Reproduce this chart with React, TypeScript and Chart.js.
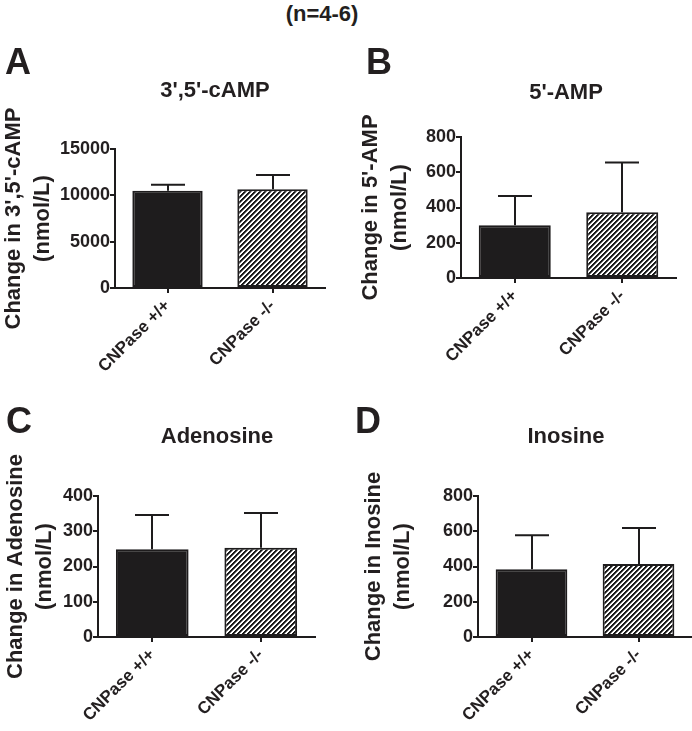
import React, { useEffect, useRef } from "react";
import { Chart, registerables } from "chart.js";

Chart.register(...registerables);

// ---------- data ----------
const categories = ["CNPase +/+", "CNPase -/-"];

const campMean = [10500, 10650];
const campSem = [650, 1550];
const campTicks = [0, 5000, 10000, 15000];

const ampMean = [300, 373];
const ampSem = [165, 282];
const ampTicks = [0, 200, 400, 600, 800];

const adoMean = [249, 253];
const adoSem = [97, 99];
const adoTicks = [0, 100, 200, 300, 400];

const inoMean = [384, 414];
const inoSem = [193, 204];
const inoTicks = [0, 200, 400, 600, 800];

const headerText = "(n=4-6)";
const unitText = "(nmol/L)";

// ---------- styles ----------
const FONT = "Arial, 'Liberation Sans', Helvetica, sans-serif";
const TEXT = "#231f20";
const INK = "#1e1c1d";

type PanelCfg = {
  letter: string;
  title: string;
  yTitle: string;
  means: number[];
  sems: number[];
  ticks: number[];
  box: { left: number; top: number; width: number; height: number };
  yWidth: number;
  padTop: number;
  padRight: number;
  xHeight: number;
  yTitlePad: number;
  letterPos: [number, number];
  titlePos: [number, number];
};

const panels: PanelCfg[] = [
  {
    letter: "A",
    title: "3',5'-cAMP",
    yTitle: "Change in 3',5'-cAMP",
    means: campMean,
    sems: campSem,
    ticks: campTicks,
    box: { left: 0, top: 30, width: 346, height: 350 },
    yWidth: 115,
    padTop: 119,
    padRight: 21,
    xHeight: 92,
    yTitlePad: 0,
    letterPos: [5, 44],
    titlePos: [215, 67],
  },
  {
    letter: "B",
    title: "5'-AMP",
    yTitle: "Change in 5'-AMP",
    means: ampMean,
    sems: ampSem,
    ticks: ampTicks,
    box: { left: 346, top: 30, width: 346, height: 350 },
    yWidth: 115,
    padTop: 107,
    padRight: 16,
    xHeight: 102,
    yTitlePad: 11,
    letterPos: [20, 44],
    titlePos: [220, 69],
  },
  {
    letter: "C",
    title: "Adenosine",
    yTitle: "Change in Adenosine",
    means: adoMean,
    sems: adoSem,
    ticks: adoTicks,
    box: { left: 0, top: 380, width: 346, height: 351 },
    yWidth: 98,
    padTop: 116,
    padRight: 31,
    xHeight: 94,
    yTitlePad: 2,
    letterPos: [6, 53],
    titlePos: [217, 63],
  },
  {
    letter: "D",
    title: "Inosine",
    yTitle: "Change in Inosine",
    means: inoMean,
    sems: inoSem,
    ticks: inoTicks,
    box: { left: 346, top: 380, width: 346, height: 351 },
    yWidth: 132,
    padTop: 116,
    padRight: 0,
    xHeight: 94,
    yTitlePad: 14,
    letterPos: [9, 53],
    titlePos: [220, 63],
  },
];

function makeHatch(ctx: CanvasRenderingContext2D): CanvasPattern | string {
  const s = 5;
  const tile = document.createElement("canvas");
  tile.width = s;
  tile.height = s;
  const tctx = tile.getContext("2d");
  if (!tctx) return "#888";
  const img = tctx.createImageData(s, s);
  for (let y = 0; y < s; y++) {
    for (let x = 0; x < s; x++) {
      const k = (x + y) % s;
      let v = 255;
      if (k === 0 || k === 1) v = 25;
      else if (k === 2) v = 110;
      const i = (y * s + x) * 4;
      img.data[i] = v;
      img.data[i + 1] = v;
      img.data[i + 2] = v;
      img.data[i + 3] = 255;
    }
  }
  tctx.putImageData(img, 0, 0);
  return ctx.createPattern(tile, "repeat") || "#888";
}

function Panel({ cfg }: { cfg: PanelCfg }) {
  const ref = useRef<HTMLCanvasElement | null>(null);

  useEffect(() => {
    const canvas = ref.current;
    if (!canvas) return;
    const ctx = canvas.getContext("2d");
    if (!ctx) return;
    const hatch = makeHatch(ctx);

    const errorBars = {
      id: "errorBars",
      afterDatasetsDraw(chart: any) {
        const meta = chart.getDatasetMeta(0);
        const y = chart.scales.y;
        const c = chart.ctx;
        c.save();
        c.strokeStyle = INK;
        c.lineWidth = 2;
        meta.data.forEach((bar: any, i: number) => {
          const top = y.getPixelForValue(cfg.means[i] + cfg.sems[i]);
          const x = Math.round(bar.x);
          c.beginPath();
          c.moveTo(x, bar.y);
          c.lineTo(x, top);
          c.moveTo(x - 17, top);
          c.lineTo(x + 17, top);
          c.stroke();
        });
        c.restore();
      },
    };

    const decor = {
      id: "decor",
      afterDraw(chart: any) {
        const c = chart.ctx;
        c.save();
        c.fillStyle = TEXT;
        c.textBaseline = "alphabetic";
        c.textAlign = "left";
        c.font = `bold 36px ${FONT}`;
        c.fillText(cfg.letter, cfg.letterPos[0], cfg.letterPos[1]);
        c.textAlign = "center";
        c.font = `bold 22px ${FONT}`;
        c.fillText(cfg.title, cfg.titlePos[0], cfg.titlePos[1]);
        c.restore();
      },
    };

    const chart = new Chart(canvas, {
      type: "bar",
      data: {
        labels: categories,
        datasets: [
          {
            data: cfg.means,
            backgroundColor: [INK, hatch as any],
            borderColor: INK,
            borderWidth: 2,
            borderSkipped: false,
            barPercentage: 0.67,
            categoryPercentage: 1,
          },
        ],
      },
      options: {
        responsive: false,
        animation: false,
        devicePixelRatio: 1,
        events: [],
        layout: {
          padding: { top: cfg.padTop, right: cfg.padRight, bottom: 0, left: 0 },
        },
        plugins: {
          legend: { display: false },
          tooltip: { enabled: false },
          title: { display: false },
        },
        scales: {
          x: {
            offset: true,
            grid: {
              display: true,
              drawOnChartArea: false,
              drawTicks: true,
              tickLength: 5,
              offset: false,
              color: INK,
              lineWidth: 2,
            },
            border: { display: true, color: INK, width: 2 },
            ticks: {
              autoSkip: false,
              maxRotation: 45,
              minRotation: 45,
              padding: 3,
              color: TEXT,
              font: { family: FONT, size: 17, weight: "bold" },
            },
            afterFit: (s: any) => {
              s.height = cfg.xHeight;
            },
          },
          y: {
            min: cfg.ticks[0],
            max: cfg.ticks[cfg.ticks.length - 1],
            afterBuildTicks: (s: any) => {
              s.ticks = cfg.ticks.map((v) => ({ value: v }));
            },
            grid: {
              display: true,
              drawOnChartArea: false,
              drawTicks: true,
              tickLength: 5,
              color: INK,
              lineWidth: 2,
            },
            border: { display: true, color: INK, width: 2 },
            ticks: {
              padding: 0,
              color: TEXT,
              font: { family: FONT, size: 18, weight: "bold" },
              callback: (v: any) => String(v),
            },
            title: {
              display: true,
              text: [cfg.yTitle, unitText],
              color: TEXT,
              font: { family: FONT, size: 22, weight: "bold", lineHeight: 1.3 },
              padding: { top: cfg.yTitlePad, bottom: 0 },
            },
            afterFit: (s: any) => {
              s.width = cfg.yWidth;
            },
          },
        },
      } as any,
      plugins: [errorBars, decor],
    });

    return () => {
      chart.destroy();
    };
  }, [cfg]);

  return (
    <canvas
      ref={ref}
      width={cfg.box.width}
      height={cfg.box.height}
      style={{
        position: "absolute",
        left: cfg.box.left,
        top: cfg.box.top,
        width: cfg.box.width,
        height: cfg.box.height,
        display: "block",
      }}
    />
  );
}

export default function App() {
  return (
    <div
      style={{
        position: "absolute",
        left: 0,
        top: 0,
        width: 692,
        height: 731,
        background: "#ffffff",
        overflow: "hidden",
      }}
    >
      <div
        style={{
          position: "absolute",
          left: 222,
          top: 1,
          width: 200,
          textAlign: "center",
          fontFamily: FONT,
          fontWeight: "bold",
          fontSize: 22,
          lineHeight: "26px",
          color: TEXT,
        }}
      >
        {headerText}
      </div>
      {panels.map((p) => (
        <Panel key={p.letter} cfg={p} />
      ))}
    </div>
  );
}
